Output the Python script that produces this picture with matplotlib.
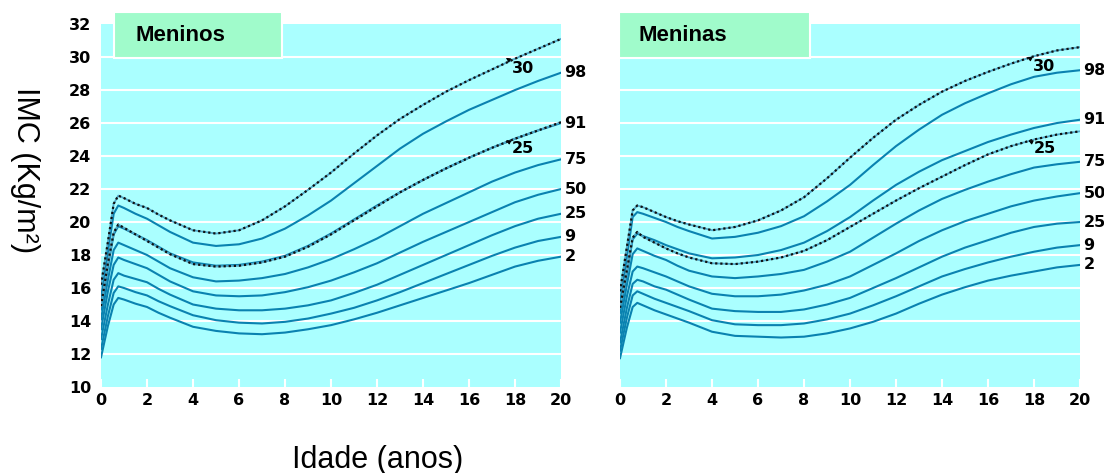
import numpy as np
import matplotlib.pyplot as plt
from matplotlib.patches import Rectangle

# idades (anos) onde as curvas foram lidas
ages = [0, 0.3, 0.55, 0.75, 1, 1.5, 2, 2.5, 3, 4, 5, 6, 7, 8, 9, 10,
        11, 12, 13, 14, 15, 16, 17, 18, 19, 20]

# Meninos - percentis
boys_p2 = [11.8, 13.7, 15.0, 15.4, 15.3, 15.05, 14.85, 14.5, 14.2, 13.65, 13.4, 13.25, 13.2,
           13.3, 13.5, 13.75, 14.1, 14.5, 14.95, 15.4, 15.85, 16.3, 16.8, 17.3, 17.65, 17.9]
boys_p9 = [12.3, 14.3, 15.7, 16.1, 16.0, 15.75, 15.55, 15.2, 14.9, 14.35, 14.05, 13.9, 13.85,
           13.95, 14.15, 14.45, 14.8, 15.25, 15.75, 16.3, 16.85, 17.4, 17.95, 18.45, 18.85, 19.1]
boys_p25 = [12.9, 15.0, 16.5, 16.9, 16.75, 16.55, 16.35, 15.95, 15.6, 15.0, 14.75, 14.65, 14.65,
            14.75, 14.95, 15.25, 15.7, 16.2, 16.8, 17.4, 18.0, 18.6, 19.2, 19.75, 20.2, 20.5]
boys_p50 = [13.5, 15.8, 17.4, 17.85, 17.7, 17.45, 17.2, 16.8, 16.4, 15.8, 15.55, 15.5, 15.55,
            15.75, 16.05, 16.45, 16.95, 17.5, 18.15, 18.8, 19.4, 20.0, 20.6, 21.2, 21.65, 22.0]
boys_p75 = [14.1, 16.5, 18.3, 18.75, 18.6, 18.3, 18.0, 17.6, 17.2, 16.65, 16.4, 16.45, 16.6,
            16.85, 17.25, 17.75, 18.35, 19.0, 19.75, 20.5, 21.15, 21.8, 22.45, 23.0, 23.45, 23.8]
boys_p91 = [14.7, 17.3, 19.25, 19.75, 19.6, 19.25, 18.9, 18.5, 18.1, 17.55, 17.35, 17.4, 17.6,
            17.95, 18.55, 19.3, 20.15, 21.0, 21.8, 22.55, 23.25, 23.9, 24.5, 25.05, 25.55, 26.0]
boys_p98 = [15.4, 18.2, 20.5, 21.0, 20.85, 20.5, 20.2, 19.8, 19.4, 18.75, 18.55, 18.65, 19.0,
            19.6, 20.4, 21.3, 22.35, 23.4, 24.45, 25.35, 26.1, 26.8, 27.4, 28.0, 28.55, 29.05]
boys_c25 = [14.9, 17.5, 19.35, 19.85, 19.65, 19.25, 18.85, 18.45, 18.05, 17.45, 17.3, 17.35, 17.55,
            17.9, 18.5, 19.25, 20.1, 20.95, 21.8, 22.55, 23.25, 23.9, 24.5, 25.05, 25.55, 26.05]
boys_c30 = [16.2, 18.8, 21.1, 21.6, 21.45, 21.1, 20.85, 20.45, 20.1, 19.5, 19.3, 19.5, 20.1,
            20.95, 21.95, 23.0, 24.15, 25.25, 26.25, 27.1, 27.9, 28.6, 29.25, 29.9, 30.5, 31.1]

# Meninas - percentis
girls_p2 = [11.75, 13.6, 14.85, 15.1, 14.95, 14.65, 14.4, 14.15, 13.9, 13.35, 13.1, 13.05, 13.0,
            13.05, 13.25, 13.55, 13.95, 14.45, 15.05, 15.6, 16.05, 16.45, 16.75, 17.0, 17.25, 17.4]
girls_p9 = [12.2, 14.2, 15.55, 15.8, 15.65, 15.35, 15.1, 14.85, 14.6, 14.05, 13.8, 13.75, 13.75,
            13.85, 14.1, 14.45, 14.95, 15.5, 16.1, 16.7, 17.15, 17.55, 17.9, 18.2, 18.45, 18.6]
girls_p25 = [12.7, 14.8, 16.25, 16.5, 16.4, 16.1, 15.9, 15.6, 15.3, 14.75, 14.6, 14.55, 14.55,
             14.7, 15.0, 15.4, 16.0, 16.6, 17.25, 17.9, 18.45, 18.9, 19.35, 19.7, 19.9, 20.0]
girls_p50 = [13.3, 15.5, 17.0, 17.3, 17.2, 16.95, 16.7, 16.4, 16.1, 15.65, 15.5, 15.5, 15.6,
             15.85, 16.2, 16.7, 17.4, 18.1, 18.85, 19.5, 20.05, 20.5, 20.95, 21.3, 21.55, 21.75]
girls_p75 = [13.9, 16.2, 18.05, 18.4, 18.25, 17.95, 17.7, 17.35, 17.05, 16.7, 16.6, 16.7, 16.85,
             17.1, 17.6, 18.2, 19.05, 19.9, 20.7, 21.4, 21.95, 22.45, 22.9, 23.3, 23.5, 23.65]
girls_p91 = [14.5, 16.9, 18.95, 19.3, 19.15, 18.9, 18.6, 18.35, 18.1, 17.8, 17.85, 18.0, 18.3,
             18.75, 19.45, 20.3, 21.3, 22.25, 23.05, 23.75, 24.3, 24.85, 25.3, 25.7, 26.0, 26.2]
girls_p98 = [15.1, 17.9, 20.3, 20.6, 20.5, 20.25, 20.0, 19.7, 19.45, 19.0, 19.1, 19.35, 19.75,
             20.35, 21.25, 22.25, 23.45, 24.6, 25.6, 26.5, 27.2, 27.8, 28.35, 28.8, 29.05, 29.2]
girls_c25 = [14.8, 17.1, 19.05, 19.4, 19.1, 18.75, 18.4, 18.1, 17.85, 17.5, 17.45, 17.6, 17.85,
             18.25, 18.9, 19.7, 20.5, 21.3, 22.05, 22.75, 23.45, 24.1, 24.6, 25.0, 25.3, 25.5]
girls_c30 = [15.8, 18.5, 20.7, 21.0, 20.9, 20.6, 20.3, 20.05, 19.85, 19.5, 19.7, 20.1, 20.7,
             21.5, 22.65, 23.9, 25.1, 26.2, 27.1, 27.9, 28.55, 29.1, 29.6, 30.05, 30.4, 30.6]

pct_labels = ['2', '9', '25', '50', '75', '91', '98']
xticks = list(range(0, 21, 2))
yticks = list(range(10, 33, 2))

boys = [boys_p2, boys_p9, boys_p25, boys_p50, boys_p75, boys_p91, boys_p98]
girls = [girls_p2, girls_p9, girls_p25, girls_p50, girls_p75, girls_p91, girls_p98]

CYAN = '#aaffff'
GREEN = '#a0fbcb'
BLUE = '#0a82b0'
tick_font = dict(family='DejaVu Sans', fontweight='bold', fontsize=11.5)

fig = plt.figure(figsize=(11.04, 4.73), dpi=100)


def panel(rect, curves, c25, c30, title, box, show_y, lab30, lab25):
    ax = fig.add_axes(rect)
    ax.set_facecolor(CYAN)
    ax.set_xlim(0, 20)
    ax.set_ylim(10, 32)
    for s in ax.spines.values():
        s.set_visible(False)
    for yv in yticks[1:-1]:
        ax.axhline(yv, color='white', lw=1.5, zorder=1)
    for c in curves:
        ax.plot(ages, c, color=BLUE, lw=1.5, zorder=3, solid_joinstyle='round')
    for c in (c25, c30):
        ax.plot(ages, c, color='#4fa9c9', lw=1.3, zorder=3)
        ax.plot(ages, c, color='#111111', lw=1.6, ls=(0, (1, 1.3)), zorder=4)
    ax.set_xticks(xticks)
    ax.set_xticklabels([str(v) for v in xticks], **tick_font)
    ax.tick_params(axis='x', direction='in', color='white', length=6, width=1.5, pad=4)
    ax.set_yticks(yticks)
    if show_y:
        ax.set_yticklabels([str(v) for v in yticks], **tick_font)
    else:
        ax.set_yticklabels([])
    ax.tick_params(axis='y', length=0, pad=7)
    for lab, c in zip(pct_labels, curves):
        ax.text(20.15, c[-1], lab, ha='left', va='center', clip_on=False, **tick_font)
    for (xy, xt, t) in (lab30 + ('30',), lab25 + ('25',)):
        ax.annotate(t, xy=xy, xytext=xt, ha='left', va='center', annotation_clip=False,
                    arrowprops=dict(arrowstyle='-|>', lw=0.8, color='black',
                                    mutation_scale=6, shrinkA=0, shrinkB=0), **tick_font)
    # caixa do título
    fig.patches.append(Rectangle((box[0], 0.8774), box[1], 0.0973, transform=fig.transFigure,
                                 facecolor=GREEN, edgecolor='white', lw=1.5, zorder=5))
    fig.text(box[2], 0.924, title, ha='left', va='center', fontsize=16,
             fontweight='bold', family='Liberation Sans', zorder=6)
    return ax


panel([0.0915, 0.1818, 0.4167, 0.7674], boys, boys_c25, boys_c30, 'Meninos',
      (0.1033, 0.152, 0.1223), True,
      ((17.6, 29.95), (17.85, 29.3)), ((17.6, 24.95), (17.85, 24.45)))
panel([0.5616, 0.1818, 0.4167, 0.7674], girls, girls_c25, girls_c30, 'Meninas',
      (0.5607, 0.173, 0.5788), False,
      ((17.7, 30.0), (17.95, 29.45)), ((17.75, 24.95), (18.0, 24.45)))

fig.text(0.0226, 0.64, 'IMC (Kg/m²)', rotation=-90, ha='center', va='center',
         fontsize=22, family='Liberation Sans')
fig.text(0.342, 0.0275, 'Idade (anos)', ha='center', va='center',
         fontsize=22, family='Liberation Sans')

fig.savefig('out.png', dpi=100)
